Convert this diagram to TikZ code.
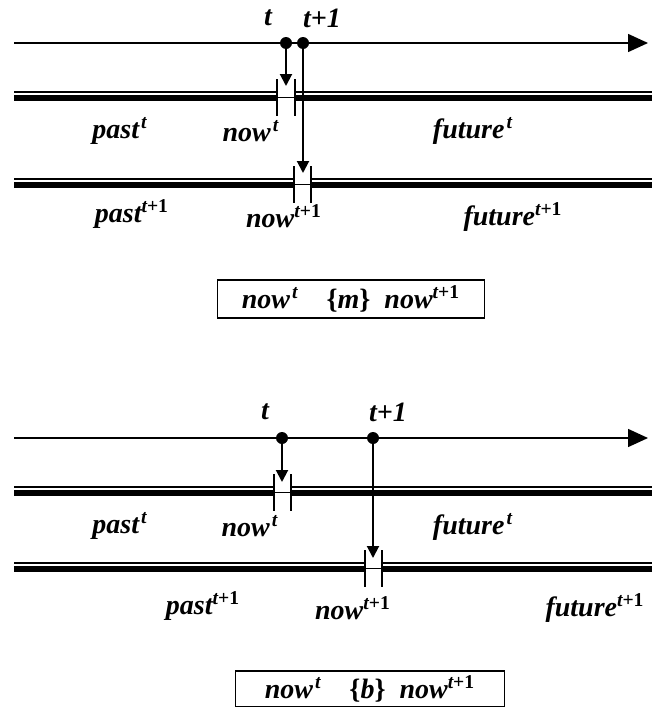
\documentclass[tikz,border=0pt]{standalone}
\usepackage{fontspec}
\setmainfont{Liberation Serif}
\usetikzlibrary{arrows.meta}
\tikzstyle{every node}=[font=\fontsize{14}{16}\selectfont\bfseries\itshape, inner sep=0pt]
\tikzstyle{axis}=[line width=0.75pt, -{Triangle[length=10pt,width=9pt]}]
\tikzstyle{dot}=[circle, fill, minimum size=6pt]
\tikzstyle{drop}=[line width=1pt, -{Triangle[length=6pt,width=6pt]}]
\tikzstyle{gap}=[line width=0.8pt]
\tikzstyle{formula}=[draw, line width=0.75pt, inner sep=0pt]

% time band with a gap marking "now": #1 = y, #2 and #3 = gap edges
\newcommand{\timeband}[3]{%
  \draw[line width=0.7pt] (14,{#1-6}) -- (#2,{#1-6}) (#3,{#1-6}) -- (652,{#1-6});
  \draw[line width=3pt] (14,#1) -- (#2,#1) (#3,#1) -- (652,#1);
  \draw[line width=0.5pt] (#2,{#1-1}) -- (#3,{#1-1});
  \draw[gap] (#2,{#1-19}) -- (#2,{#1+18}) (#3,{#1-19}) -- (#3,{#1+18});
}
\newcommand{\nowt}{now\textsuperscript{\kern1pt t}}
\newcommand{\nowtt}{now\textsuperscript{t\upshape+1}}

\begin{document}
\begin{tikzpicture}[x=0.5pt,y=-0.5pt]
\useasboundingbox (0,0) rectangle (652,707);

% --- meets
\coordinate (a0) at (14,43);
\coordinate (a1) at (648,43);
\draw[axis] (a0) -- (a1);
\node[dot] (t0) at (286,43) {};
\node[dot] (t1) at (303,43) {};
\node (lt0) at (268,18) {t};
\node (lt1) at (322,18) {t+1};
\timeband{98}{277}{295}
\timeband{185}{294}{311}
\coordinate (n0) at (286,86);
\coordinate (n1) at (303,173);
\draw[drop] (t0) -- (n0);
\draw[drop] (t1) -- (n1);
\node (past0) at (120,131) {past\textsuperscript{\kern1pt t}};
\node (now0) at (251,131) {\nowt};
\node (fut0) at (473,131) {future\textsuperscript{\kern1pt t}};
\node (past1) at (132,214) {past\textsuperscript{t\upshape+1}};
\node (now1) at (284,216) {\nowtt};
\node (fut1) at (513,217) {future\textsuperscript{t\upshape+1}};
\node[formula, minimum width=133.5pt, minimum height=19pt] (rm) at (351,299)
  {\nowt\quad\upshape\{\itshape m\upshape\}\itshape\ \ \nowtt};

% --- before
\coordinate (b0) at (14,438);
\coordinate (b1) at (648,438);
\draw[axis] (b0) -- (b1);
\node[dot] (s0) at (282,438) {};
\node[dot] (s1) at (373,438) {};
\node (ls0) at (265,412) {t};
\node (ls1) at (388,412) {t+1};
\timeband{493}{274}{291}
\timeband{569}{365}{382}
\coordinate (m0) at (282,482);
\coordinate (m1) at (373,558);
\draw[drop] (s0) -- (m0);
\draw[drop] (s1) -- (m1);
\node (past2) at (120,526) {past\textsuperscript{\kern1pt t}};
\node (now2) at (250,526) {\nowt};
\node (fut2) at (473,527) {future\textsuperscript{\kern1pt t}};
\node (past3) at (203,606) {past\textsuperscript{t\upshape+1}};
\node (now3) at (353,608) {\nowtt};
\node (fut3) at (595,608) {future\textsuperscript{t\upshape+1}};
\node[formula, minimum width=134.5pt, minimum height=18pt] (rb) at (370,689)
  {\nowt\quad\upshape\{\itshape b\upshape\}\itshape\ \ \nowtt};
\end{tikzpicture}
\end{document}
